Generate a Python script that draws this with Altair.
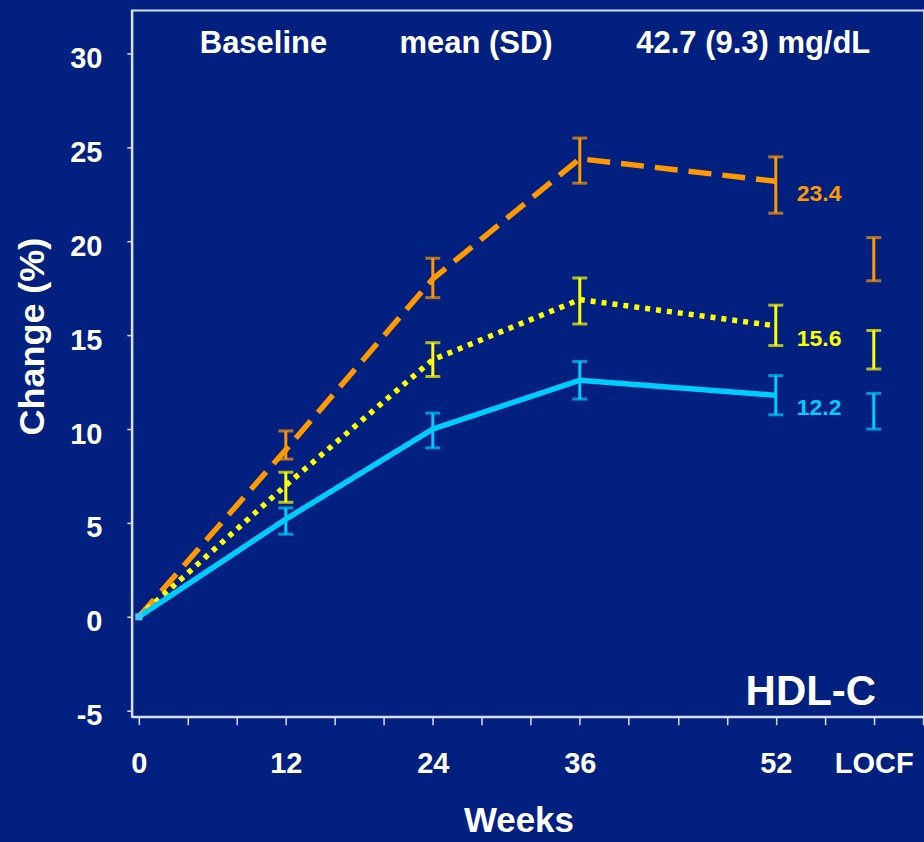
import altair as alt
import pandas as pd

# ---- data ----
series_names = ["Orange", "Yellow", "Cyan"]
series_colors = ["#FF9900", "#FFFF00", "#00CCFF"]

line_weeks = [0, 12, 24, 36, 52]
orange_mean = [0.0, 8.9, 18.0, 24.4, 23.2]
yellow_mean = [0.0, 7.0, 13.7, 16.9, 15.5]
cyan_mean = [0.0, 5.2, 10.0, 12.6, 11.8]

bar_weeks = [12, 24, 36, 52, 60]   # 60 = LOCF position
orange_lo = [8.4, 17.0, 23.1, 21.5, 17.9]
orange_hi = [9.9, 19.1, 25.5, 24.5, 20.2]
yellow_lo = [6.1, 12.8, 15.6, 14.45, 13.2]
yellow_hi = [7.7, 14.6, 18.05, 16.6, 15.25]
cyan_lo = [4.4, 9.0, 11.6, 10.76, 10.0]
cyan_hi = [5.8, 10.85, 13.6, 12.85, 11.9]

end_labels = ["23.4", "15.6", "12.2"]
end_label_week = 52
end_label_y = [23.2, 15.5, 11.8]

x_tick_values = list(range(0, 65, 4))
x_labelled = [0, 12, 24, 36, 52]
y_tick_values = [-5, 0, 5, 10, 15, 20, 25, 30]

# ---- tables ----
means = [orange_mean, yellow_mean, cyan_mean]
los = [orange_lo, yellow_lo, cyan_lo]
his = [orange_hi, yellow_hi, cyan_hi]

line_rows, bar_rows = [], []
for name, m, lo, hi in zip(series_names, means, los, his):
    for w, v in zip(line_weeks, m):
        line_rows.append({"series": name, "week": w, "value": v})
    for w, a, b in zip(bar_weeks, lo, hi):
        bar_rows.append({"series": name, "week": w, "lo": a, "hi": b})
line_df = pd.DataFrame(line_rows)
bar_df = pd.DataFrame(bar_rows)
lab_df = pd.DataFrame({"series": series_names, "week": [end_label_week] * 3,
                       "value": end_label_y, "text": end_labels})
origin_df = pd.DataFrame({"week": [0], "value": [0.0]})

FONT = "Liberation Sans"
BG = "#01207F"
AX = "#D8DCEC"

xscale = alt.Scale(domain=[-0.57, 64.1], nice=False, zero=False)
yscale = alt.Scale(domain=[-5.32, 32.3], nice=False, zero=False)
color = alt.Color("series:N", scale=alt.Scale(domain=series_names, range=series_colors), legend=None)

x_axis = alt.Axis(
    values=x_tick_values,
    labelExpr="datum.value == 60 ? 'LOCF' : (indexof(" + str(x_labelled) + ", datum.value) >= 0 ? datum.label : '')",
    labelFont=FONT, labelFontSize=29, labelFontWeight="bold", labelColor="white",
    labelPadding=25, labelFlush=False, labelOverlap=False,
    tickSize=8, tickColor=AX, tickWidth=1.5, domainColor=AX, domainWidth=2, grid=False,
    title="Weeks", titleFont=FONT, titleFontSize=35, titleFontWeight="bold", titleColor="white",
    titleX=387, titleY=115, titleBaseline="alphabetic", titleAlign="center",
)
y_axis = alt.Axis(
    values=y_tick_values,
    labelExpr="datum.value < 0 ? '-' + abs(datum.value) : '' + datum.value",
    labelFont=FONT, labelFontSize=29, labelFontWeight="bold", labelColor="white",
    labelPadding=25, labelOffset=5, labelFlush=False,
    tickSize=5, tickColor=AX, tickWidth=1.5, domainColor=AX, domainWidth=2, grid=False,
    title="Change (%)", titleFont=FONT, titleFontSize=36, titleFontWeight="bold", titleColor="white",
    titleX=-88, titleY=326, titleBaseline="alphabetic", titleAlign="center", titleAngle=270,
)

lines = alt.Chart(line_df).mark_line(strokeWidth=5.5, strokeCap="butt").encode(
    x=alt.X("week:Q", scale=xscale, axis=x_axis),
    y=alt.Y("value:Q", scale=yscale, axis=y_axis),
    color=color,
    strokeDash=alt.StrokeDash("series:N", scale=alt.Scale(domain=series_names,
                              range=[[23, 11], [5, 6], [1, 0]]), legend=None),
    order=alt.Order("week:Q"),
)

bars = alt.Chart(bar_df).mark_rule(strokeWidth=3).encode(
    x=alt.X("week:Q", scale=xscale),
    y=alt.Y("lo:Q", scale=yscale),
    y2="hi:Q",
    color=color,
)
caps_lo = alt.Chart(bar_df).mark_tick(orient="horizontal", size=15, thickness=3).encode(
    x=alt.X("week:Q", scale=xscale), y=alt.Y("lo:Q", scale=yscale), color=color)
caps_hi = alt.Chart(bar_df).mark_tick(orient="horizontal", size=15, thickness=3).encode(
    x=alt.X("week:Q", scale=xscale), y=alt.Y("hi:Q", scale=yscale), color=color)

origin = alt.Chart(origin_df).mark_point(shape="square", filled=True, size=50, opacity=1,
                                         color="#40C8FF").encode(
    x=alt.X("week:Q", scale=xscale), y=alt.Y("value:Q", scale=yscale))

end_text = alt.Chart(lab_df).mark_text(align="left", baseline="middle", dx=21, dy=13,
                                       font=FONT, fontSize=23, fontWeight="bold").encode(
    x=alt.X("week:Q", scale=xscale), y=alt.Y("value:Q", scale=yscale), text="text:N", color=color)

def note(txt, px, py, size, align="left"):
    return alt.Chart(pd.DataFrame({"t": [txt]})).mark_text(
        align=align, baseline="alphabetic", font=FONT, fontSize=size, fontWeight="bold",
        color="white").encode(x=alt.value(px), y=alt.value(py), text="t:N")

notes = [
    note("Baseline", 68, 43, 31),
    note("mean (SD)", 268, 43, 31),
    note("42.7 (9.3) mg/dL", 505, 43, 31),
    note("HDL-C", 745, 695, 42, align="right"),
]

chart = alt.layer(lines, bars, caps_lo, caps_hi, origin, end_text, *notes).properties(
    width=793, height=707,
    background=BG,
    padding={"left": 132, "top": 10, "right": 0, "bottom": 125},
    autosize=alt.AutoSizeParams(type="none"),
).configure_view(stroke=AX, strokeWidth=2)

chart.save("out.html", embed_options={"renderer": "svg", "actions": False})
